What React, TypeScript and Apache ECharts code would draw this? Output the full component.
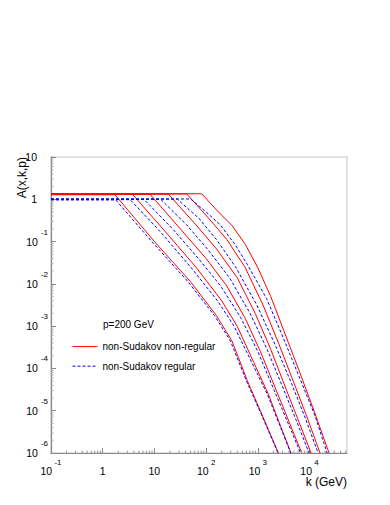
import React, { useEffect, useRef } from "react";
import * as echarts from "echarts";

const FONT = "Liberation Sans, Arial, Helvetica, sans-serif";

const X_MIN = 0.1;
const X_MAX = 53000;
const Y_MIN = 1e-6;
const Y_MAX = 10;

const NAME_RED = "non-Sudakov non-regular";
const NAME_BLUE = "non-Sudakov regular";

// red (non-Sudakov non-regular)
const redK1 = [0.1, 1.73, 10, 50.1, 158, 316, 631, 1259, 2495];
const redA1 = [1.28, 1.28, 0.1, 0.0112, 1.78e-3, 4.47e-4, 5.0e-5, 7.1e-6, 1e-6];
const redK2 = [0.1, 3.8, 15.8, 63.1, 200, 398, 794, 1585, 2630, 4385];
const redA2 = [1.3, 1.3, 0.178, 0.0251, 3.98e-3, 1e-3, 1.58e-4, 2.51e-5, 5.0e-6, 1e-6];
const redK3 = [0.1, 8.22, 31.6, 100, 251, 562, 1122, 2239, 3981, 7063];
const redA3 = [1.31, 1.31, 0.2, 0.0398, 8.9e-3, 1.58e-3, 2.51e-4, 3.16e-5, 5.6e-6, 1e-6];
const redK4 = [0.1, 18.6, 63.1, 158, 398, 891, 1778, 3548, 6310, 10690];
const redA4 = [1.33, 1.33, 0.251, 0.0676, 0.0141, 2.0e-3, 2.82e-4, 3.16e-5, 5.25e-6, 1e-6];
const redK5 = [0.1, 42.2, 112, 251, 562, 1259, 2512, 5012, 8913, 15960];
const redA5 = [1.34, 1.34, 0.355, 0.112, 0.0251, 3.16e-3, 3.98e-4, 4.47e-5, 7.1e-6, 1e-6];
const redK6 = [0.1, 82.2, 158, 316, 562, 1000, 1778, 3162, 6546, 12590, 23820];
const redA6 = [1.35, 1.35, 0.562, 0.24, 0.0891, 0.024, 5.0e-3, 7.94e-4, 7.76e-5, 8.9e-6, 1e-6];

// blue (non-Sudakov regular)
const blueK1 = [0.1, 1.78, 8.91, 44.7, 145, 295, 603, 1230, 2455];
const blueA1 = [0.97, 0.97, 0.1, 0.0112, 1.78e-3, 4.47e-4, 5.0e-5, 7.1e-6, 1e-6];
const blueK2 = [0.1, 3.39, 12.6, 50.1, 166, 347, 724, 1514, 2570, 4315];
const blueA2 = [0.98, 0.98, 0.178, 0.0251, 3.98e-3, 1e-3, 1.58e-4, 2.51e-5, 5.0e-6, 1e-6];
const blueK3 = [0.1, 6.31, 22.4, 70.8, 191, 468, 1000, 2042, 3715, 6683];
const blueA3 = [0.99, 0.99, 0.2, 0.0398, 8.9e-3, 1.58e-3, 2.51e-4, 3.16e-5, 5.6e-6, 1e-6];
const blueK4 = [0.1, 13.2, 41.7, 105, 282, 708, 1514, 3162, 5754, 9772];
const blueA4 = [1.0, 1.0, 0.251, 0.0676, 0.0141, 2.0e-3, 2.82e-4, 3.16e-5, 5.25e-6, 1e-6];
const blueK5 = [0.1, 27.5, 72.4, 158, 372, 955, 2089, 4467, 8128, 14620];
const blueA5 = [1.01, 1.01, 0.355, 0.112, 0.0251, 3.16e-3, 3.98e-4, 4.47e-5, 7.1e-6, 1e-6];
const blueK6 = [0.1, 50.1, 100, 186, 363, 631, 1479, 3162, 6310, 12590, 21880];
const blueA6 = [1.02, 1.02, 0.5, 0.251, 0.0851, 0.0282, 4.47e-3, 5.0e-4, 6.31e-5, 7.94e-6, 1e-6];

const RED_CURVES = [
  [redK1, redA1], [redK2, redA2], [redK3, redA3],
  [redK4, redA4], [redK5, redA5], [redK6, redA6],
];
const BLUE_CURVES = [
  [blueK1, blueA1], [blueK2, blueA2], [blueK3, blueA3],
  [blueK4, blueA4], [blueK5, blueA5], [blueK6, blueA6],
];

// minor tick positions (log axes, 2..9 per decade)
const MINOR_STEPS = [2, 3, 4, 5, 6, 7, 8, 9];
const X_DECADES = [0.1, 1, 10, 100, 1000, 10000];
const Y_DECADES = [1e-6, 1e-5, 1e-4, 1e-3, 1e-2, 0.1, 1];

const zip = (k: number[], a: number[]) => k.map((v, i) => [v, a[i]]);

const xLabel = (value: number) => {
  const e = Math.round(Math.log10(value));
  if (e === 0) return "{b|1}{h| }";
  if (e === 1) return "{b|10}{h| }";
  return "{b|10}{h| }{p| }{s|" + e + "}";
};
const yLabel = (value: number) => {
  const e = Math.round(Math.log10(value));
  if (e === 0) return "{b|1}{g| }";
  if (e === 1) return "{b|10}{g| }";
  return "{b|10}{p| }{s|" + e + "}";
};

const xRich = {
  b: { fontSize: 10.5, lineHeight: 12, verticalAlign: "bottom", color: "#000", fontFamily: FONT },
  h: { fontSize: 1, lineHeight: 18 },
  p: { fontSize: 8, width: 2, lineHeight: 10, verticalAlign: "top" },
  s: { fontSize: 8, lineHeight: 10, verticalAlign: "top", color: "#000", fontFamily: FONT },
};
const yRich = {
  b: { fontSize: 10.5, lineHeight: 27, verticalAlign: "middle", color: "#000", fontFamily: FONT },
  p: { fontSize: 8, width: 3, lineHeight: 10, verticalAlign: "top" },
  s: { fontSize: 8, lineHeight: 10, verticalAlign: "top", color: "#000", fontFamily: FONT },
  g: { fontSize: 8, width: 11, lineHeight: 10 },
};

export default function App() {
  const ref = useRef<HTMLDivElement>(null);

  useEffect(() => {
    if (!ref.current) return;
    const chart = echarts.init(ref.current, null, { renderer: "svg" });

    const xMinor = X_DECADES.flatMap((d) => MINOR_STEPS.map((m) => +(m * d).toPrecision(3))).filter(
      (v) => v < X_MAX
    );
    const yMinor = Y_DECADES.flatMap((d) => MINOR_STEPS.map((m) => +(m * d).toPrecision(3))).filter(
      (v) => v < Y_MAX
    );

    const series: any[] = [];
    RED_CURVES.forEach(([k, a]) => {
      series.push({
        type: "line",
        name: NAME_RED,
        data: zip(k, a),
        symbol: "none",
        showSymbol: false,
        clip: true,
        color: "#ff0000",
        itemStyle: { color: "#ff0000", opacity: 0 },
        lineStyle: { color: "#ff0000", width: 1 },
        z: 2,
        silent: true,
      });
    });
    BLUE_CURVES.forEach(([k, a]) => {
      series.push({
        type: "line",
        name: NAME_BLUE,
        data: zip(k, a),
        symbol: "none",
        showSymbol: false,
        clip: true,
        color: "#0000ff",
        itemStyle: { color: "#0000ff", opacity: 0 },
        lineStyle: { color: "#0000ff", width: 1, type: [3, 2] },
        z: 3,
        silent: true,
      });
    });
    series.push({
      type: "custom",
      name: "xminor",
      silent: true,
      data: xMinor.map((v) => [v, Y_MIN]),
      renderItem: (params: any, api: any) => {
        const p = api.coord([api.value(0), Y_MIN]);
        return {
          type: "line",
          shape: { x1: p[0], y1: p[1], x2: p[0], y2: p[1] - 2.5 },
          style: { stroke: "#999", lineWidth: 1 },
        };
      },
      z: 4,
    });
    series.push({
      type: "custom",
      name: "yminor",
      silent: true,
      data: yMinor.map((v) => [X_MIN, v]),
      renderItem: (params: any, api: any) => {
        const p = api.coord([X_MIN, api.value(1)]);
        return {
          type: "line",
          shape: { x1: p[0], y1: p[1], x2: p[0] + 2.5, y2: p[1] },
          style: { stroke: "#aaa", lineWidth: 1 },
        };
      },
      z: 4,
    });

    chart.setOption({
      animation: false,
      backgroundColor: "#ffffff",
      textStyle: { fontFamily: FONT },
      grid: {
        left: 51,
        top: 157,
        right: 43,
        bottom: 52,
        show: true,
        borderColor: "#d8d8d8",
        borderWidth: 1.5,
        backgroundColor: "transparent",
      },
      title: {
        text: "p=200 GeV",
        left: 103,
        top: 319,
        padding: 0,
        textStyle: { fontSize: 10, fontWeight: "normal", color: "#000", fontFamily: FONT },
      },
      legend: {
        data: [NAME_RED, NAME_BLUE],
        orient: "vertical",
        left: 72,
        top: 341,
        padding: 0,
        itemWidth: 25,
        itemHeight: 14,
        itemGap: 8.4,
        selectedMode: false,
        itemStyle: { opacity: 0 },
        lineStyle: { width: 1 },
        textStyle: { fontSize: 10, color: "#000", fontFamily: FONT },
      },
      xAxis: {
        type: "log",
        logBase: 10,
        min: X_MIN,
        max: X_MAX,
        axisLine: { show: true, lineStyle: { color: "#888", width: 1.2 } },
        axisTick: { show: true, inside: true, length: 5, lineStyle: { color: "#888" } },
        splitLine: { show: false },
        axisLabel: {
          margin: 5,
          showMaxLabel: false,
          formatter: xLabel,
          rich: xRich,
        },
      },
      yAxis: {
        type: "log",
        logBase: 10,
        min: Y_MIN,
        max: Y_MAX,
        axisLine: { show: true, lineStyle: { color: "#888", width: 1.2 } },
        axisTick: { show: true, inside: true, length: 5, lineStyle: { color: "#888" } },
        splitLine: { show: false },
        axisLabel: {
          margin: 3,
          formatter: yLabel,
          rich: yRich,
        },
      },
      graphic: [
        {
          type: "text",
          x: 22,
          y: 157,
          rotation: Math.PI / 2,
          style: {
            text: "A(x,k,p)",
            align: "right",
            verticalAlign: "middle",
            fontSize: 12,
            fontFamily: FONT,
            fill: "#000",
          },
        },
        {
          type: "text",
          right: 43,
          top: 476,
          style: { text: "k (GeV)", fontSize: 12, fontFamily: FONT, fill: "#000" },
        },
      ],
      series,
    });

    return () => chart.dispose();
  }, []);

  return (
    <div
      ref={ref}
      style={{ position: "fixed", left: 0, top: 0, width: 390, height: 505, background: "#fff" }}
    />
  );
}
